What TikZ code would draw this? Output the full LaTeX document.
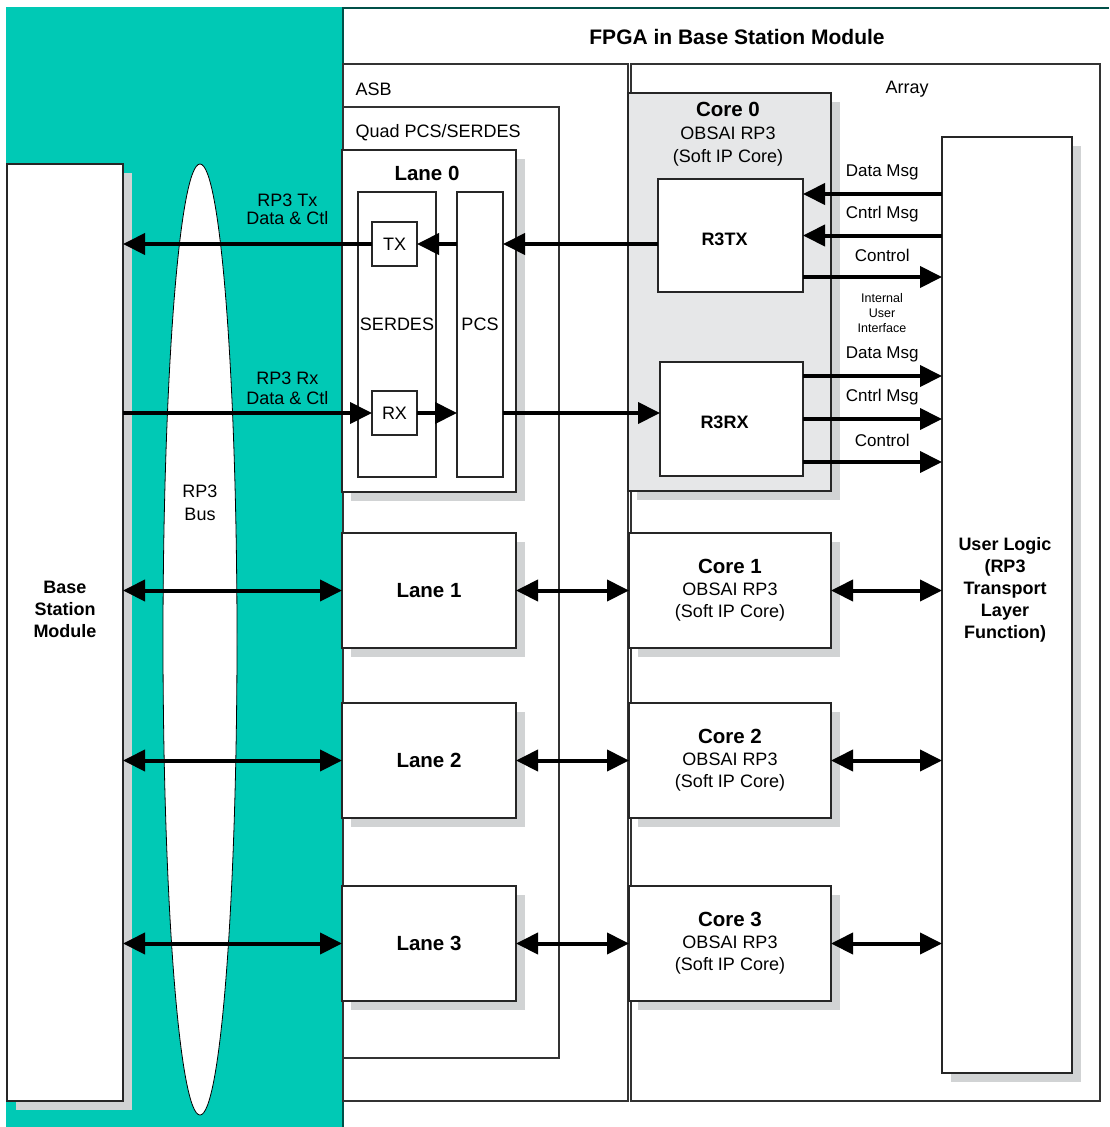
\documentclass[tikz,border=0pt]{standalone}
\usepackage{fontspec}
\setmainfont{Liberation Sans}
\usetikzlibrary{arrows.meta,shadows}

\definecolor{rpteal}{RGB}{0,201,181}
\definecolor{shadegray}{RGB}{209,211,212}
\definecolor{coregray}{RGB}{230,231,232}

\begin{document}
\begin{tikzpicture}[x=1pt, y=-1pt,
    frame/.style={draw=black!80, line width=1.4pt},
    blk/.style={draw=black!85, line width=1.4pt, fill=white, inner sep=0pt, outer sep=0pt},
    shd/.style={drop shadow={shadow xshift=9pt, shadow yshift=-9pt, fill=shadegray, opacity=1}},
    txt/.style={font=\fontsize{18}{22}\selectfont},
    bold/.style={font=\fontsize{18}{22}\selectfont\bfseries},
    big/.style={font=\fontsize{20.5}{24}\selectfont\bfseries},
    msg/.style={font=\fontsize{17}{20}\selectfont, yshift=21.5pt},
    lanebox/.style={blk, shd, big, minimum width=174pt, minimum height=115pt},
    corebox/.style={blk, shd, txt, align=center, minimum width=202pt, minimum height=115pt},
    sig/.style={line width=4pt, -{Triangle[length=22pt, width=21pt]}},
    dbl/.style={line width=4pt, {Triangle[length=22pt, width=21pt]}-{Triangle[length=22pt, width=21pt]}}
]
    \useasboundingbox (0,0) rectangle (1109,1127);

    % Base station side and RP3 bus
    \fill[rpteal] (6,7) rectangle (343,1127);
    \draw[line width=1.4pt, rpteal!40!black] (343,1127) -- (343,8) -- (1109,8);
    \draw[line width=0.8pt, fill=white] (200,639.5) ellipse [x radius=37, y radius=475.5];
    \node[blk, shd, minimum width=116pt, minimum height=937pt] (bsm) at (65,632.5) {};
    \node[bold, align=center] (bsmtxt) at (65,609) {Base\\Station\\Module};
    \node[txt, align=center, font=\fontsize{18}{23}\selectfont] (bustxt) at (200,503) {RP3\\Bus};

    % FPGA frames
    \node[big, font=\fontsize{21}{24}\selectfont\bfseries] (title) at (737,37) {FPGA in Base Station Module};
    \draw[frame] (343,64) rectangle (628,1101);
    \draw[frame] (631,64) rectangle (1100,1101);
    \draw[frame] (343,107) rectangle (559,1058);
    \node[txt, anchor=west] (asb) at (352,89) {ASB};
    \node[txt, anchor=west] (quad) at (352,133) {Quad PCS/SERDES};
    \node[txt] (array) at (907,89) {Array};

    % Lane 0
    \node[blk, shd, minimum width=174pt, minimum height=342pt] (lane0) at (429,321) {};
    \node[big] (lane0txt) at (427,173) {Lane 0};
    \node[blk, minimum width=78pt, minimum height=285pt,
          label={[txt, yshift=10pt]center:SERDES}] (serdes) at (397,334.5) {};
    \node[blk, minimum width=46pt, minimum height=285pt,
          label={[txt, yshift=10pt]center:PCS}] (pcs) at (480,334.5) {};
    \node[blk, txt, minimum width=45pt, minimum height=44pt] (tx) at (394.5,244) {TX};
    \node[blk, txt, minimum width=45pt, minimum height=44pt] (rx) at (394.5,413) {RX};

    % Core 0
    \node[blk, shd, fill=coregray, minimum width=203pt, minimum height=398pt] (core0) at (729.5,292) {};
    \node[txt, align=center, font=\fontsize{18}{23}\selectfont] (core0txt) at (728,134)
        {{\fontsize{20.5}{23}\selectfont\bfseries Core 0}\\OBSAI RP3\\(Soft IP Core)};
    \node[blk, minimum width=145pt, minimum height=113pt,
          label={[bold, xshift=-6pt, yshift=-4pt]center:R3TX}] (r3tx) at (730.5,235.5) {};
    \node[blk, minimum width=143pt, minimum height=114pt,
          label={[bold, xshift=-7pt, yshift=-3pt]center:R3RX}] (r3rx) at (731.5,419) {};

    % User logic
    \node[blk, shd, minimum width=130pt, minimum height=936pt] (ul) at (1007,605) {};
    \node[bold, align=center] (ultxt) at (1005,590) {User Logic\\(RP3\\Transport\\Layer\\Function)};

    % Lanes 1..3 and cores 1..3
    \foreach \i/\y in {1/590.5, 2/760.5, 3/943.5} {
        \node[lanebox] (lane\i) at (429,\y) {Lane \i};
        \node[corebox] (core\i) at (730,\y)
            {{\fontsize{20.5}{23}\selectfont\bfseries Core \i}\\OBSAI RP3\\(Soft IP Core)};
        \draw[dbl] (lane\i.west -| bsm.east) -- (lane\i.west);
        \draw[dbl] (lane\i.east) -- (core\i.west);
        \draw[dbl] (core\i.east) -- (core\i.east -| ul.west);
    }

    % Lane 0 datapath
    \draw[sig] (tx -| r3tx.west) -- (tx -| pcs.east);
    \draw[sig] (tx -| pcs.west) -- (tx.east);
    \draw[sig] (tx.west) -- (tx -| bsm.east)
        node[txt, align=center, font=\fontsize{18}{18}\selectfont, pos=.34, yshift=35pt] (txlbl) {RP3 Tx\\Data \& Ctl};
    \draw[sig] (rx -| bsm.east) -- (rx.west)
        node[txt, align=center, font=\fontsize{18}{20}\selectfont, pos=.66, yshift=25pt] (rxlbl) {RP3 Rx\\Data \& Ctl};
    \draw[sig] (rx.east) -- (rx -| pcs.west);
    \draw[sig] (rx -| pcs.east) -- (rx -| r3rx.west);

    % Internal user interface
    \coordinate (txdm) at ([yshift=41.5pt]r3tx.east);
    \coordinate (txcm) at (r3tx.east);
    \coordinate (txct) at ([yshift=-41.5pt]r3tx.east);
    \coordinate (rxdm) at ([yshift=43pt]r3rx.east);
    \coordinate (rxcm) at (r3rx.east);
    \coordinate (rxct) at ([yshift=-43pt]r3rx.east);
    \draw[sig] (txdm -| ul.west) -- node[msg, pos=.43] {Data Msg} (txdm);
    \draw[sig] (txcm -| ul.west) -- node[msg, pos=.43] {Cntrl Msg} (txcm);
    \draw[sig] (txct) -- node[msg, pos=.57] {Control} (txct -| ul.west);
    \draw[sig] (rxdm) -- node[msg, pos=.57] {Data Msg} (rxdm -| ul.west);
    \draw[sig] (rxcm) -- node[msg, pos=.57] {Cntrl Msg} (rxcm -| ul.west);
    \draw[sig] (rxct) -- node[msg, pos=.57] {Control} (rxct -| ul.west);
    \node[align=center, font=\fontsize{12.5}{15}\selectfont] (iui) at (882,313) {Internal\\User\\Interface};
\end{tikzpicture}
\end{document}
